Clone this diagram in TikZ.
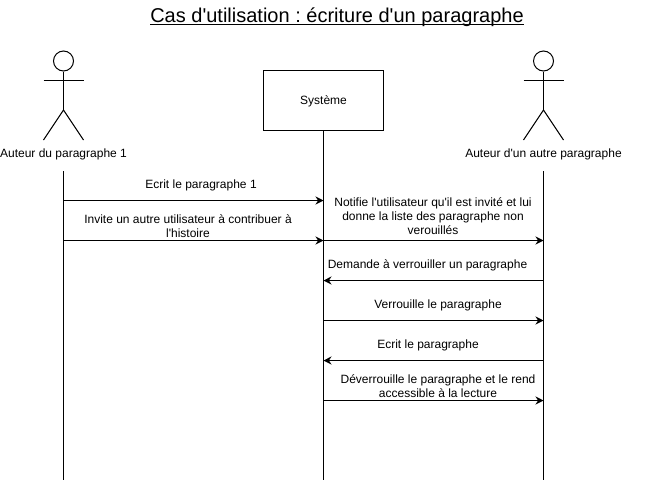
\documentclass[tikz,border=0pt]{standalone}
\usepackage{fontspec}
\setmainfont{Liberation Sans}
\usetikzlibrary{arrows.meta}
\usetikzlibrary{positioning}
\newcommand{\apos}{\textquotesingle}
\frenchspacing
\tikzset{
    head/.style={
           circle,
           draw=black,
           minimum size=15pt,
           inner sep=0pt,
           },
    box/.style={
           rectangle,
           draw=black,
           minimum width=90pt,
           minimum height=45pt,
           text height=8.5pt,
           inner sep=2pt,
           font=\fontsize{9}{10.5}\selectfont,
           },
    label/.style={
           align=center,
           inner sep=0pt,
           yshift=-0.6pt,
           font=\fontsize{9}{10.5}\selectfont,
           },
    message/.style={
           -{Stealth[length=6pt,width=6pt]},
           },
}

\begin{document}
\begin{tikzpicture}[x=0.75pt,y=-0.75pt,line width=0.75pt]
 \useasboundingbox (0,0) rectangle (648,482);

 % Title
 \node[inner sep=0pt,anchor=base,font=\fontsize{15}{18}\selectfont] (Titre) at (337,22)
 {\underline{\smash{Cas d\apos utilisation : écriture d\apos un paragraphe}}};

 % Actor on the left
 \node[head] (Tete1) at (63.5,61) {};
 \coordinate (Bassin1) at (63.5,110);
 \coordinate (BrasG1) at (43.5,80.5);
 \coordinate (BrasD1) at (83.5,80.5);
 \coordinate (PiedG1) at (43.5,140);
 \coordinate (PiedD1) at (83.5,140);
 \node[label] (Auteur1) at (63.5,154) {Auteur du paragraphe 1};
 \draw (Tete1) -- (Bassin1);
 \draw (BrasG1) -- (BrasD1);
 \draw (PiedG1) -- (Bassin1) -- (PiedD1);

 % Actor on the right
 \node[head] (Tete2) at (543.5,61) {};
 \coordinate (Bassin2) at (543.5,110);
 \coordinate (BrasG2) at (523.5,80.5);
 \coordinate (BrasD2) at (563.5,80.5);
 \coordinate (PiedG2) at (523.5,140);
 \coordinate (PiedD2) at (563.5,140);
 \node[label] (Auteur2) at (543.5,154) {Auteur d\apos un autre paragraphe};
 \draw (Tete2) -- (Bassin2);
 \draw (BrasG2) -- (BrasD2);
 \draw (PiedG2) -- (Bassin2) -- (PiedD2);

 % System box
 \node[box] (Systeme) at (323.5,100.5) {Système};

 % Lifelines, and one point on them per message
 \coordinate (Debut1) at (63.5,171);
 \coordinate (Fin1) at (63.5,480);
 \coordinate (Fin) at (323.5,480);
 \coordinate (Debut2) at (543.5,171);
 \coordinate (Fin2) at (543.5,480);
 \draw (Debut1) -- (Fin1);
 \draw (Systeme) -- (Fin);
 \draw (Debut2) -- (Fin2);
 \foreach \y in {200,240,280,320,360,400}{
  \coordinate (A\y) at (63.5,\y.5);
  \coordinate (S\y) at (323.5,\y.5);
  \coordinate (B\y) at (543.5,\y.5);
 }

 % Messages
 \draw[message] (A200) -- (S200);
 \draw[message] (A240) -- (S240);
 \draw[message] (S240) -- (B240);
 \draw[message] (B280) -- (S280);
 \draw[message] (S320) -- (B320);
 \draw[message] (B360) -- (S360);
 \draw[message] (S400) -- (B400);

 % Text above the messages
 \node[label] (Ecrit1) at (201,185) {Ecrit le paragraphe 1};
 \node[label] (Invite) at (188,225) {Invite un autre utilisateur à contribuer à\\l\apos histoire};
 \node[label] (Notifie) at (433,215) {Notifie l\apos utilisateur qu\apos il est invité et lui\\donne la liste des paragraphe non\\verouillés};
 \node[label] (Demande) at (427.5,265) {Demande à verrouiller un paragraphe};
 \node[label] (Verrouille) at (438,305) {Verrouille le paragraphe};
 \node[label] (Ecrit2) at (428,345) {Ecrit le paragraphe};
 \node[label] (Deverrouille) at (438,385) {Déverrouille le paragraphe et le rend\\accessible à la lecture};
\end{tikzpicture}
\end{document}
